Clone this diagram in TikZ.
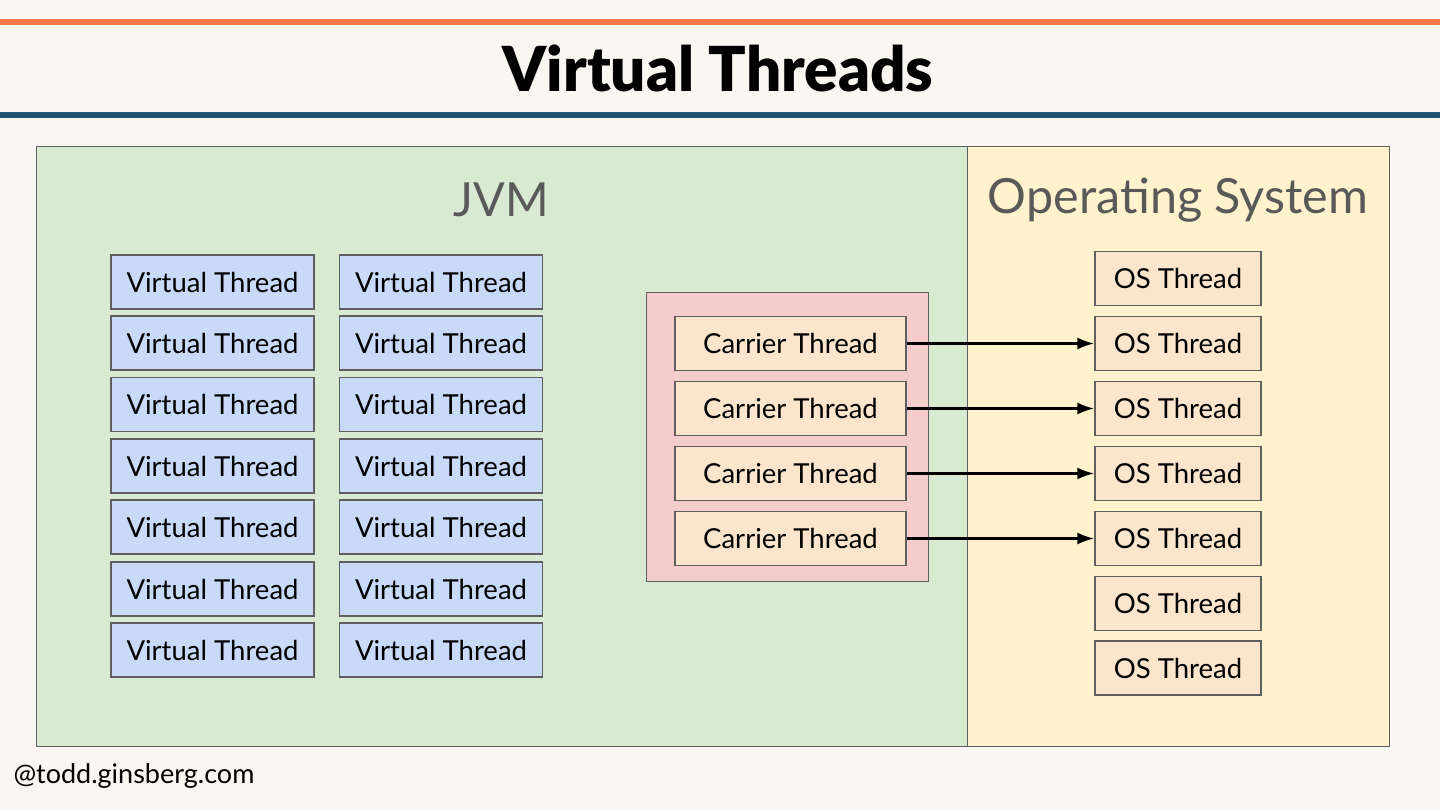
\documentclass[tikz,border=0pt]{standalone}
\usepackage{fontspec}
\setmainfont{Lato}
\newfontfamily\titlefont{Lato}[UprightFont=* Black]
\usetikzlibrary{arrows.meta}
\definecolor{bgc}{HTML}{FAF7F2}
\definecolor{orangeline}{HTML}{F7784A}
\definecolor{blueline}{HTML}{1F5373}
\definecolor{jvmfill}{HTML}{D9EAD3}
\definecolor{osfill}{HTML}{FFF2CC}
\definecolor{vtfill}{HTML}{C9DAF8}
\definecolor{pinkfill}{HTML}{F4CCCC}
\definecolor{peach}{HTML}{FCE5CD}
\definecolor{edgec}{HTML}{5F5F5F}
\definecolor{labelc}{HTML}{595959}
\tikzset{
  panel/.style={draw=edgec, line width=1.3pt},
  threadbox/.style={draw=edgec, line width=1.3pt, minimum height=54pt, inner sep=0pt, font=\fontsize{27.5}{32}\selectfont, text=black},
  vt/.style={threadbox, fill=vtfill, minimum width=203pt},
  ct/.style={threadbox, fill=peach, minimum width=231pt},
  ost/.style={threadbox, fill=peach, minimum width=166pt},
  link/.style={-{Latex[length=17pt,width=12pt]}, line width=2.6pt},
  biglabel/.style={text=labelc, font=\fontsize{47}{56}\selectfont}
}
\begin{document}
\begin{tikzpicture}[x=1pt,y=-1pt]
\useasboundingbox (0,0) rectangle (1440,810);
\fill[bgc] (0,0) rectangle (1440,810);
\fill[orangeline] (0,19) rectangle (1440,25);
\fill[blueline] (0,112) rectangle (1440,118);
\node[font=\titlefont\fontsize{62}{72}\selectfont] (title) at (718,68) {Virtual Threads};
% panels
\node[panel, fill=jvmfill, minimum width=931pt, minimum height=600pt, inner sep=0pt, anchor=north west] (jvm) at (36,146) {};
\node[panel, fill=osfill, minimum width=422pt, minimum height=600pt, inner sep=0pt, anchor=north west] (os) at (967,146) {};
\node[biglabel] (jvmlabel) at (501,200) {JVM};
\node[biglabel, font=\fontsize{48.5}{58}\selectfont] (oslabel) at (1178,200) {Operating System};
% virtual threads
\foreach \i/\y in {1/282,2/343,3/404.5,4/466,5/527,6/589,7/650}{
  \node[vt] (vta\i) at (212.5,\y) {Virtual Thread};
  \node[vt] (vtb\i) at (441,\y) {Virtual Thread};
}
% carrier pool
\node[panel, fill=pinkfill, minimum width=282pt, minimum height=289pt, inner sep=0pt, anchor=north west] (pool) at (646,292) {};
\foreach \i/\y in {1/343.5,2/408.5,3/473.5,4/538.5}{
  \node[ct] (ct\i) at (790.5,\y) {Carrier Thread};
}
% os threads
\foreach \i/\y in {1/278.5,2/343.5,3/408.5,4/473.5,5/538.5,6/603.5,7/668}{
  \node[ost] (ost\i) at (1178,\y) {OS Thread};
}
% arrows
\foreach \i/\j in {1/2,2/3,3/4,4/5}{
  \draw[link] (ct\i.east) -- (ost\j.west);
}
\node[anchor=west, font=\fontsize{27}{32}\selectfont] (footer) at (10,776) {@todd.ginsberg.com};
\end{tikzpicture}
\end{document}
